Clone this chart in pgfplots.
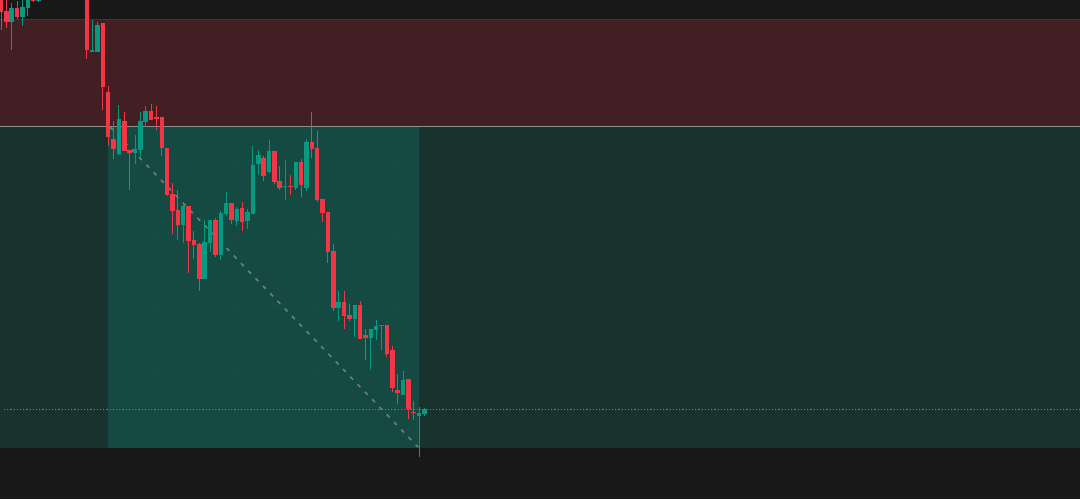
\documentclass[border=0pt]{standalone}
\usepackage{pgfplots}
\usepackage{pgfplotstable}
\pgfplotsset{compat=1.18}

\definecolor{bgdark}{HTML}{181818}
\definecolor{stopzone}{HTML}{421F23}
\definecolor{stopedge}{HTML}{5A282D}
\definecolor{tgtzone}{HTML}{19322E}
\definecolor{tgtlight}{HTML}{154A42}
\definecolor{cred}{HTML}{F23645}
\definecolor{cgreen}{HTML}{089981}
\definecolor{entryline}{HTML}{8C8F8E}
\definecolor{priceline}{HTML}{22A88E}
\definecolor{diag}{HTML}{6F7F7A}

% candles in screen pixels: i = bar index, h = high, t = body top, b = body bottom, l = low
\pgfplotstableread{
i h t b l
0 -8 -4 11.7 30
1 -2 11 22 28
3 1 8 17 19
6 -3 -1 1 2
16 -20 -15 50 59
19 23 23 87 110
20 86 92 137 146
21 121 139 149 159
23 112 121 151 151
24 150 150 153 190
28 104 111 120 120
29 106 117 119 130
30 117 117 148 156
31 148 148 195 196
32 183 194 211 234
33 190 210 225 240
35 206 206 241 273
36 231 240 245 259
37 243 244 279 291
40 218 220 255 257
43 203 203 220 224
45 202 208 222 231
49 156 158 176 181
51 151 151 182 184
52 166 181 188 190
54 175 185.5 186.7 195
56 159 162 185 197
58 112 142 149 158
59 131 148 200 202
60 199 199 213 222
61 212 212 252 263
62 244 251 308 311
64 291 302 316 329
65 304 315 319 321
67 301 305 339 339
68 329 335 338 360
72 325 325 354 357
73 346 350 388 392
74 374 390 393 404
76 379 379 409 419
77 401 411.5 412.7 420
}\redc

\pgfplotstableread{
i h t b l
2 3.3 8 21.7 50
4 -3 6.7 16.7 25.7
5 -6 -3 7.7 15.7
7 -2 0 1 2
17 20 50 51.5 52
18 22.3 25 51.7 52
22 105 119 154 155
25 135 149 153 164
26 112 121 150 158
27 106 111 122 127
34 202 206 225 243
38 220 242 279 279
39 220 220 243 252
41 211 213 255 260
42 192 203 214 216
44 207 209 221 226
46 209 212 221 229
47 146 165 214 214
48 150 155 164 175
50 140 151 172 173
53 160 185.5 186.7 200
55 162 162 188 190
57 139 142 188 191
63 291 302 308 321
66 305 305 319 337
69 329 329 338 370
70 320 326 330 340
71 325 325 326.2 350
75 371 380 395 395
78 407 413 416 457
79 408 409 414 416
}\greenc

\begin{document}
\begin{tikzpicture}
\begin{axis}[
  width=1080pt, height=499pt, scale only axis,
  xmin=0, xmax=1080, ymin=0, ymax=499,
  y dir=reverse,
  axis line style={draw=none},
  ticks=none,
  clip=true,
]
% background and position zones
\fill[bgdark] (axis cs:0,0) rectangle (axis cs:1080,499);
\fill[stopzone] (axis cs:0,19) rectangle (axis cs:1080,126.5);
\fill[tgtzone] (axis cs:0,126.5) rectangle (axis cs:1080,447.5);
\fill[tgtlight] (axis cs:108,126.5) rectangle (axis cs:418.5,447.5);
\draw[stopedge, line width=0.8pt] (axis cs:0,19.3) -- (axis cs:1080,19.3);

% faint grid
\foreach \gx in {77,157,237,317,397,477,557,636,716,795,875,958,1038}{
  \edef\tmp{\noexpand\draw[white, opacity=0.012, line width=1pt] (axis cs:\gx,0) -- (axis cs:\gx,499);}\tmp
}
\foreach \gy in {93,163,234,305,375}{
  \edef\tmp{\noexpand\draw[white, opacity=0.01, line width=1pt] (axis cs:0,\gy) -- (axis cs:1080,\gy);}\tmp
}

\draw[entryline, line width=1.2pt] (axis cs:0,126.5) -- (axis cs:1080,126.5);
\draw[diag, line width=1.6pt, dash pattern=on 4pt off 6.5pt] (axis cs:110,127) -- (axis cs:418,447);
\draw[priceline, line width=1.1pt, dash pattern=on 1.2pt off 2pt] (axis cs:4,409.3) -- (axis cs:1080,409.3);

% wicks
\addplot[draw=none, mark=none, forget plot,
  error bars/.cd, y dir=plus, y explicit, error mark=none,
  error bar style={draw=cred, line width=1pt}]
  table[x expr=1+5.36*\thisrow{i}, y=h, y error expr=\thisrow{l}-\thisrow{h}] {\redc};
\addplot[draw=none, mark=none, forget plot,
  error bars/.cd, y dir=plus, y explicit, error mark=none,
  error bar style={draw=cgreen, line width=1pt}]
  table[x expr=1+5.36*\thisrow{i}, y=h, y error expr=\thisrow{l}-\thisrow{h}] {\greenc};
% bodies
\addplot[draw=none, mark=none, forget plot,
  error bars/.cd, y dir=plus, y explicit, error mark=none,
  error bar style={draw=cred, line width=4.5pt}]
  table[x expr=1+5.36*\thisrow{i}, y=t, y error expr=\thisrow{b}-\thisrow{t}] {\redc};
\addplot[draw=none, mark=none, forget plot,
  error bars/.cd, y dir=plus, y explicit, error mark=none,
  error bar style={draw=cgreen, line width=4.5pt}]
  table[x expr=1+5.36*\thisrow{i}, y=t, y error expr=\thisrow{b}-\thisrow{t}] {\greenc};
\end{axis}
\end{tikzpicture}
\end{document}
